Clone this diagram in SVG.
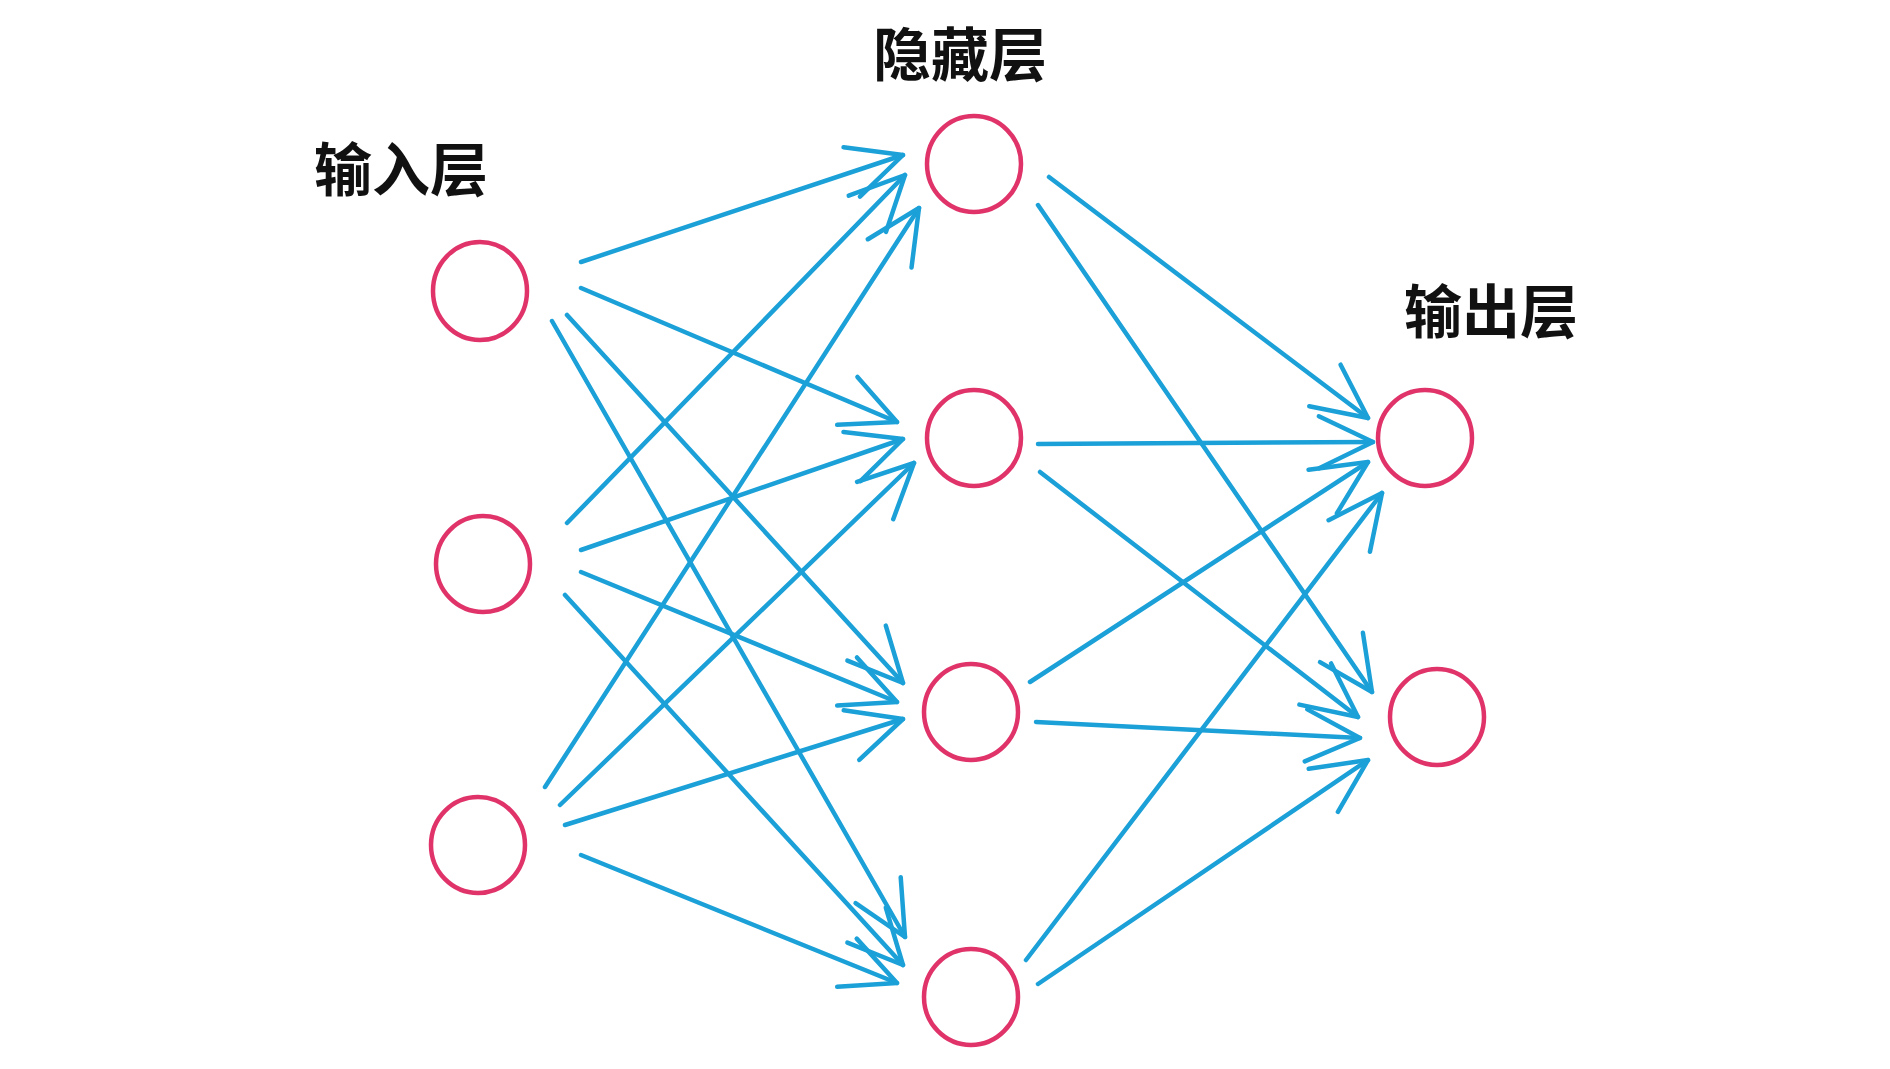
<svg xmlns="http://www.w3.org/2000/svg" width="1890" height="1069" viewBox="0 0 1890 1069">
<style>
.node{fill:none;stroke:#e0336a;stroke-width:4.5}
.edge{fill:none;stroke:#1ba0d8;stroke-width:4.5;stroke-linecap:round;marker-end:url(#arr)}
.label{font-family:"Liberation Serif","Noto Sans CJK SC",serif;font-size:58px;font-weight:700;fill:#111;text-anchor:middle}
</style>
<defs>
<marker id="arr" markerUnits="userSpaceOnUse" viewBox="-60 -30 64 60" refX="0" refY="0" markerWidth="64" markerHeight="60" orient="auto">
<path d="M-54,-26 L0,0 L-54,26" fill="none" stroke="#1ba0d8" stroke-width="4.5" stroke-linecap="round" stroke-linejoin="round"/>
</marker>
</defs>
<rect width="1890" height="1069" fill="#fff"/>
<g id="labels">
<text class="label" x="401" y="191">输入层</text>
<text class="label" x="960" y="76">隐藏层</text>
<text class="label" x="1491" y="333">输出层</text>
</g>
<g id="connectors">
<line class="edge" x1="581" y1="262" x2="903" y2="155"/>
<line class="edge" x1="581" y1="288" x2="897" y2="422"/>
<line class="edge" x1="567" y1="315" x2="903" y2="683"/>
<line class="edge" x1="552" y1="321" x2="905" y2="937"/>
<line class="edge" x1="567" y1="523" x2="905" y2="175"/>
<line class="edge" x1="581" y1="550" x2="903" y2="439"/>
<line class="edge" x1="581" y1="572" x2="897" y2="702"/>
<line class="edge" x1="565" y1="595" x2="903" y2="965"/>
<line class="edge" x1="545" y1="787" x2="919" y2="208"/>
<line class="edge" x1="560" y1="805" x2="914" y2="463"/>
<line class="edge" x1="565" y1="825" x2="903" y2="719"/>
<line class="edge" x1="581" y1="855" x2="897" y2="983"/>
<line class="edge" x1="1049" y1="177" x2="1368" y2="418"/>
<line class="edge" x1="1038" y1="205" x2="1372" y2="692"/>
<line class="edge" x1="1038" y1="444" x2="1373" y2="442"/>
<line class="edge" x1="1040" y1="472" x2="1358" y2="717"/>
<line class="edge" x1="1030" y1="682" x2="1368" y2="462"/>
<line class="edge" x1="1036" y1="722" x2="1360" y2="738"/>
<line class="edge" x1="1026" y1="960" x2="1382" y2="493"/>
<line class="edge" x1="1038" y1="984" x2="1368" y2="760"/>
</g>
<g id="input1"><ellipse class="node" cx="480" cy="291" rx="47" ry="49"/></g>
<g id="input2"><ellipse class="node" cx="483" cy="564" rx="47" ry="48"/></g>
<g id="input3"><ellipse class="node" cx="478" cy="845" rx="47" ry="48"/></g>
<g id="hidden1"><ellipse class="node" cx="974" cy="164" rx="47" ry="48"/></g>
<g id="hidden2"><ellipse class="node" cx="974" cy="438" rx="47" ry="48"/></g>
<g id="hidden3"><ellipse class="node" cx="971" cy="712" rx="47" ry="48"/></g>
<g id="hidden4"><ellipse class="node" cx="971" cy="997" rx="47" ry="48"/></g>
<g id="output1"><ellipse class="node" cx="1425" cy="438" rx="47" ry="48"/></g>
<g id="output2"><ellipse class="node" cx="1437" cy="717" rx="47" ry="48"/></g>
</svg>
